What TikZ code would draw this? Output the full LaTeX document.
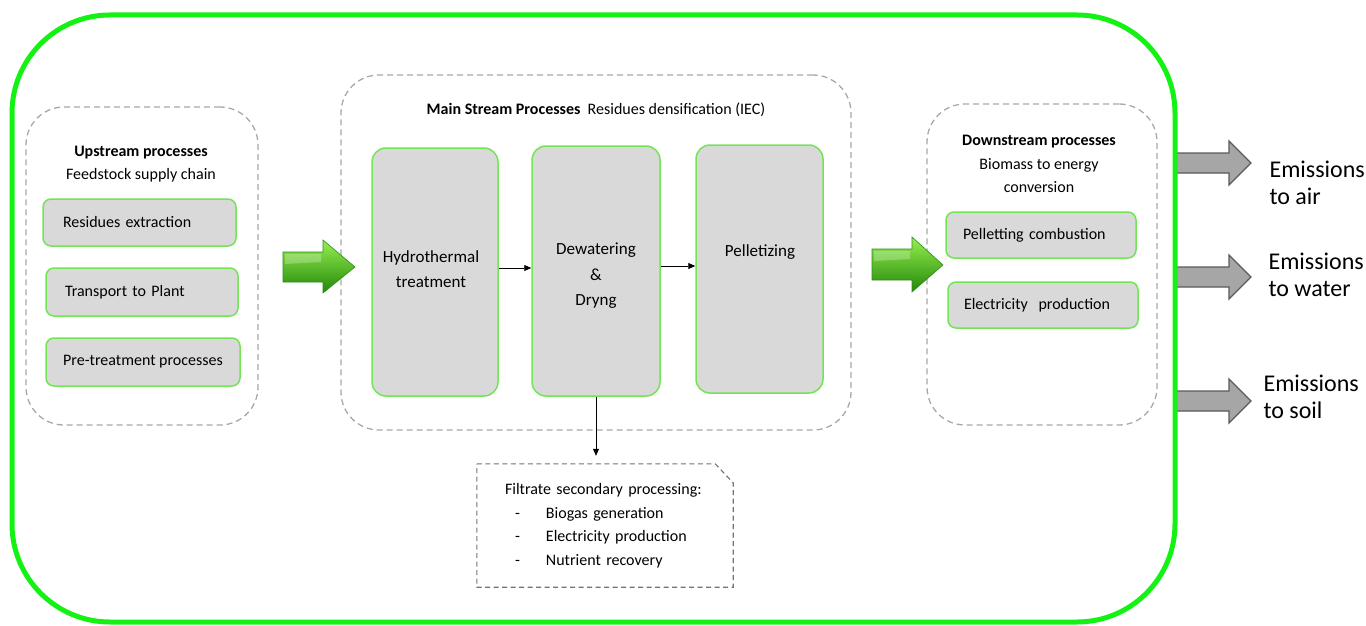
\documentclass[tikz,border=0pt]{standalone}
\usepackage{fontspec}
\setmainfont{Carlito}
\usetikzlibrary{arrows.meta}
\definecolor{boxgreen}{RGB}{115,228,85}
\definecolor{boxfill}{RGB}{217,217,217}
\definecolor{dashgray}{RGB}{168,168,168}
\definecolor{outergreen}{RGB}{20,242,20}
\definecolor{arrgray}{RGB}{166,166,166}
\definecolor{arrdark}{RGB}{90,90,90}
\definecolor{glight}{RGB}{150,240,80}
\definecolor{gmid}{RGB}{60,195,20}
\definecolor{gdark}{RGB}{35,135,10}
\definecolor{gedge}{RGB}{50,140,20}
\begin{document}
\begin{tikzpicture}[x=1pt,y=-1pt,
  every node/.style={font=\fontsize{16}{19}\selectfont},
  container/.style={draw=dashgray, line width=1.3pt, dash pattern=on 6pt off 4pt, rounded corners=38pt, rectangle, inner sep=0pt},
  procbox/.style={draw=boxgreen, fill=boxfill, line width=1.5pt, rounded corners=8pt, rectangle, inner ysep=0pt, align=left},
  tallbox/.style={draw=boxgreen, fill=boxfill, line width=1.5pt, rounded corners=14pt, rectangle, inner sep=0pt},
  talltext/.style={align=center, inner sep=0pt, font=\fontsize{17}{25.5}\selectfont},
  flow/.style={-{Triangle[length=7pt,width=6pt]}, line width=0.8pt, black},
  grayarrow/.style={fill=arrgray, draw=arrdark, line width=1.3pt, line join=miter},
  greenarrow/.style={top color=glight, middle color=gmid, bottom color=gdark, draw=gedge, line width=0.6pt}
]
\useasboundingbox (0,0) rectangle (1366,626);

% gray emission arrows (behind the outer frame)
\foreach \c in {163,277,401}{
  \path[grayarrow] (1175,\c-10) -- (1229,\c-10) -- (1229,\c-22) -- (1251,\c) -- (1229,\c+22) -- (1229,\c+10) -- (1175,\c+10) -- cycle;
}

% outer frame
\draw[outergreen, line width=5pt, rounded corners=98pt] (12,15) rectangle (1175,622);

% containers
\node[container, minimum width=232pt, minimum height=318pt] (up) at (142,266) {};
\node[container, minimum width=510pt, minimum height=355pt] (main) at (596,252.5) {};
\node[container, minimum width=230pt, minimum height=321pt] (down) at (1042,264.5) {};

% titles
\node[align=center, font=\fontsize{16}{23}\selectfont] (uptitle) at (141,164) {\textbf{Upstream processes}\\Feedstock supply chain};
\node (maintitle) at (596,110) {\textbf{Main Stream Processes}\ \ Residues densification (IEC)};
\node[align=center, font=\fontsize{16}{23.5}\selectfont] (downtitle) at (1039,164) {\textbf{Downstream processes}\\Biomass to energy\\conversion};

% upstream boxes
\node[procbox, minimum height=47pt, inner xsep=20pt, text width=153pt] (res) at (139.5,222.5) {Residues extraction};
\node[procbox, minimum height=48pt, inner xsep=19pt, text width=154pt] (trans) at (142,292) {Transport to Plant};
\node[procbox, minimum height=48pt, inner xsep=0pt, minimum width=194pt, align=center] (pre) at (143,362) {Pre-treatment processes};

% main stream boxes
\node[tallbox, minimum width=126pt, minimum height=248pt] (hyd) at (435,272) {};
\node[tallbox, minimum width=128pt, minimum height=250pt] (dew) at (596,271) {};
\node[tallbox, minimum width=127pt, minimum height=248pt] (pel) at (759.5,269) {};
\node[talltext] (hydt) at (431,269) {Hydrothermal\\treatment};
\node[talltext] (dewt) at (596,276) {Dewatering\\\&\\Dryng};
\node[talltext] (pelt) at (760,252) {Pelletizing};

% downstream boxes
\node[procbox, minimum height=46pt, inner xsep=17pt, text width=156pt] (pc) at (1041,235) {Pelletting combustion};
\node[procbox, minimum height=46pt, inner xsep=16pt, text width=158pt] (ep) at (1043,305) {Electricity\ \ production};

% filtrate box
\node[rectangle, minimum width=256pt, minimum height=123pt, inner xsep=28pt, text width=200pt,
      align=left, font=\fontsize{16}{23.5}\selectfont] (filt) at (605,525.5)
  {Filtrate secondary processing:\\
   \makebox[41pt][l]{\hspace*{10pt}-}Biogas generation\\
   \makebox[41pt][l]{\hspace*{10pt}-}Electricity production\\
   \makebox[41pt][l]{\hspace*{10pt}-}Nutrient recovery};
\draw[draw=arrdark!85, line width=1.1pt, dash pattern=on 5pt off 3.5pt]
  (filt.north west) -- ([xshift=-18pt]filt.north east) -- ([yshift=-19pt]filt.north east)
  -- (filt.south east) -- (filt.south west) -- cycle;

% flows
\draw[flow] ([yshift=4pt]hyd.east) -- ([yshift=4pt]hyd.east -| dew.west);
\draw[flow] ([yshift=5pt]dew.east) -- ([yshift=5pt]dew.east -| pel.west);
\draw[flow] (dew.south) -- ([yshift=8pt]dew.south |- filt.north);

% green block arrows
\path[greenarrow] (283,252) -- (323,252) -- (323,240) -- (355,267) -- (323,293) -- (323,282) -- (283,282) -- cycle;
\path[greenarrow] (872,249) -- (912,249) -- (912,237) -- (943,265) -- (912,292) -- (912,280) -- (872,280) -- cycle;
\fill[white, opacity=0.25] (285,254) -- (321,254) -- (321,262) -- (285,264) -- cycle;
\fill[white, opacity=0.25] (874,251) -- (910,251) -- (910,259) -- (874,261) -- cycle;

% emissions labels
\node[anchor=west, align=left, font=\fontsize{24}{27}\selectfont] (air) at (1266,183) {Emissions\\to air};
\node[anchor=west, align=left, font=\fontsize{24}{27}\selectfont] (water) at (1265,275) {Emissions\\to water};
\node[anchor=west, align=left, font=\fontsize{24}{27}\selectfont] (soil) at (1260,397) {Emissions\\to soil};
\end{tikzpicture}
\end{document}
